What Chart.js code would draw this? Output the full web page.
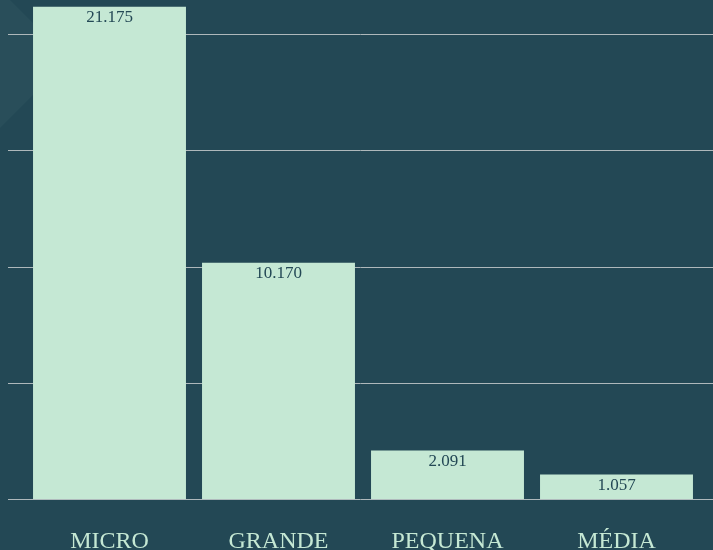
<!DOCTYPE html>
<html>
<head>
<meta charset="utf-8">
<script src="https://cdn.jsdelivr.net/npm/chart.js@4"></script>
<style>
  html, body { margin: 0; padding: 0; background: #234855; }
  #wrap { position: relative; width: 713px; height: 550px; overflow: hidden; }
  #deco {
    position: absolute; left: 0; top: 0; width: 120px; height: 140px;
    background: #294e5a;
    clip-path: polygon(0 0, 10px 0, 69px 59px, 0 128px);
  }
  canvas { position: absolute; left: 0; top: 0; }
</style>
</head>
<body>
<div id="wrap">
  <div id="deco"></div>
  <canvas id="porte" width="713" height="550"></canvas>
</div>
<script>
// porte das empresas
const categorias = ['MICRO', 'GRANDE', 'PEQUENA', 'MÉDIA'];
const quantidades = [21175, 10170, 2091, 1057];
const linhasGrade = [0, 5000, 10000, 15000, 20000];

const corFundo = '#234855';
const corBarra = '#c5e8d4';

// grid lines drawn across the full width through the y scale
const gridPlugin = {
  id: 'fullGrid',
  beforeDatasetsDraw(chart) {
    const y = chart.scales.y;
    const ctx = chart.ctx;
    ctx.save();
    ctx.strokeStyle = '#aeb8bb';
    ctx.lineWidth = 1;
    linhasGrade.forEach(v => {
      const py = Math.round(y.getPixelForValue(v)) + 0.5;
      ctx.beginPath();
      ctx.moveTo(8, py);
      ctx.lineTo(chart.width, py);
      ctx.stroke();
    });
    ctx.restore();
  }
};

// number labels inside the top of each bar
const labelPlugin = {
  id: 'barLabels',
  afterDatasetsDraw(chart) {
    const ctx = chart.ctx;
    const meta = chart.getDatasetMeta(0);
    ctx.save();
    ctx.fillStyle = corFundo;
    ctx.font = '17px "Liberation Serif"';
    ctx.textAlign = 'center';
    ctx.textBaseline = 'middle';
    meta.data.forEach((bar, i) => {
      const txt = quantidades[i].toLocaleString('pt-BR');
      ctx.fillText(txt, bar.x, bar.y + 11);
    });
    ctx.restore();
  }
};

new Chart(document.getElementById('porte').getContext('2d'), {
  type: 'bar',
  data: {
    labels: categorias,
    datasets: [{
      data: quantidades,
      backgroundColor: corBarra,
      borderWidth: 0,
      barPercentage: 0.905,
      categoryPercentage: 1
    }]
  },
  options: {
    responsive: false,
    animation: false,
    layout: { padding: { left: 25, right: 12, top: 0, bottom: -26 } },
    plugins: {
      legend: { display: false },
      tooltip: { enabled: false }
    },
    scales: {
      x: {
        grid: { display: false },
        border: { display: false },
        ticks: {
          color: '#c5e8d4',
          padding: 20,
          font: { family: '"Liberation Serif"', size: 24 }
        }
      },
      y: {
        display: false,
        min: 0,
        max: 21460
      }
    }
  },
  plugins: [gridPlugin, labelPlugin]
});
</script>
</body>
</html>
